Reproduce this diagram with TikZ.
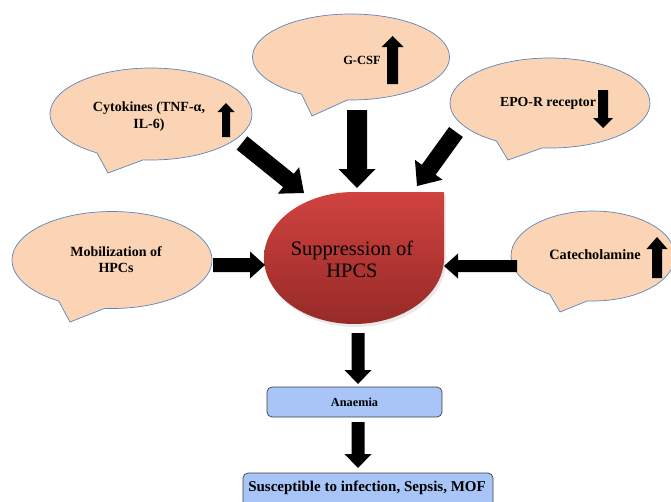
\documentclass[tikz,border=0pt]{standalone}
\usepackage{fontspec}
\setmainfont{Liberation Serif}
\usetikzlibrary{shapes.callouts,calc}
\definecolor{peach}{HTML}{FAD4B4}
\definecolor{callblue}{HTML}{5A86BC}
\definecolor{boxblue}{HTML}{A9C5F8}
\definecolor{boxline}{HTML}{3F3F3F}
\definecolor{redtop}{HTML}{D0433F}
\definecolor{redbot}{HTML}{962A28}
% block arrow: start, end, shaft half width, head half width, head length
\newcommand\blk[5]{\fill[black] let \p1=(#1), \p2=(#2),
  \n1={atan2(\y2-\y1,\x2-\x1)}, \n2={veclen(\x2-\x1,\y2-\y1)} in
  [shift={(\p1)}, rotate=\n1] (0,-#3) -- ({\n2-#5},-#3) -- ({\n2-#5},-#4)
  -- (\n2,0) -- ({\n2-#5},#4) -- ({\n2-#5},#3) -- (0,#3) -- cycle;}
\begin{document}
\begin{tikzpicture}[x=1pt,y=-1pt,
  bubble/.style={ellipse callout, draw=callblue, line width=0.7pt, fill=peach,
    inner sep=0pt, callout pointer arc=28},
  lbl/.style={inner sep=0pt, align=center, text=black},
  flowbox/.style={draw=boxline, line width=0.7pt, fill=boxblue, rounded corners=5pt,
    inner sep=0pt}]
\useasboundingbox (0,0) rectangle (671,501);
\clip (0,0) rectangle (671,501);

% callout bubbles
\node[bubble, minimum width=202pt, minimum height=92pt, callout absolute pointer={(108,173)}] (cyt) at (151,114) {};
\node[bubble, minimum width=197pt, minimum height=86pt, callout absolute pointer={(312,116)}] (gcsf) at (351,57) {};
\node[bubble, minimum width=200pt, minimum height=90pt, callout absolute pointer={(508,160)}] (epo) at (550,103) {};
\node[bubble, minimum width=200pt, minimum height=97pt, callout absolute pointer={(70,322)}] (mob) at (112,260) {};
\node[bubble, minimum width=164pt, minimum height=90pt, callout absolute pointer={(560,312)}] (cat) at (593,256) {};

% central teardrop
\fill[gray!50, opacity=0.35] (446,195) -- (356,195) arc[start angle=90, end angle=360, x radius=90pt, y radius=66pt] -- cycle;
\shade[top color=redtop, bottom color=redbot] (444,192) -- (354,192) arc[start angle=90, end angle=360, x radius=90pt, y radius=66pt] -- cycle;
\node[lbl, font=\fontsize{20.5}{22}\selectfont] (sup) at (352,259) {Suppression of\\HPCS};

% texts in bubbles
\node[lbl, font=\bfseries\fontsize{14}{17}\selectfont] (tcyt) at (149,117) {Cytokines (TNF-α,\\IL-6)};
\node[lbl, font=\bfseries\fontsize{12.5}{15}\selectfont] (tgcsf) at (362,60) {G-CSF};
\node[lbl, font=\bfseries\fontsize{13.8}{16}\selectfont] (tepo) at (548,103) {EPO-R receptor};
\node[lbl, font=\bfseries\fontsize{14}{16}\selectfont] (tmob) at (116,260) {Mobilization of\\HPCs};
\node[lbl, font=\bfseries\fontsize{14.3}{16}\selectfont] (tcat) at (595,255) {Catecholamine};

% flow boxes
\node[flowbox, minimum width=175pt, minimum height=30pt] (an) at (354.5,402) {};
\node[lbl, font=\bfseries\fontsize{12.3}{14}\selectfont] (tan) at (354.5,402) {Anaemia};
\node[flowbox, minimum width=250pt, minimum height=34pt] (sus) at (368,490) {};
\node[lbl, font=\bfseries\fontsize{15}{17}\selectfont] (tsus) at (367,488) {Susceptible to infection, Sepsis, MOF};

% arrow end points
\coordinate (a1) at (242,143);  \coordinate (b1) at (304,193);
\coordinate (a2) at (357,110);  \coordinate (b2) at (357,188);
\coordinate (a3) at (456,132);  \coordinate (b3) at (417,186);
\coordinate (a4) at (213,265);  \coordinate (b4) at (265,265);
\coordinate (a5) at (517,266);  \coordinate (b5) at (444,266);
\coordinate (a6) at (358,333);  \coordinate (b6) at (358,384);
\coordinate (a7) at (358,422);  \coordinate (b7) at (358,468);

\blk{a1}{b1}{8.5}{17}{20}
\blk{a2}{b2}{10}{18.5}{19}
\blk{a3}{b3}{8.5}{17}{20}
\blk{a4}{b4}{7}{13.5}{15}
\blk{a5}{b5}{6}{12.5}{14}
\blk{a6}{b6}{6.5}{13.5}{14}
\blk{a7}{b7}{6.5}{13.5}{14}

% small trend arrows inside bubbles
\coordinate (u1a) at (226,137); \coordinate (u1b) at (226,103);
\coordinate (u2a) at (392.5,84); \coordinate (u2b) at (392.5,36);
\coordinate (u3a) at (603,90);  \coordinate (u3b) at (603,128);
\coordinate (u4a) at (657,278); \coordinate (u4b) at (657,237);
\blk{u1a}{u1b}{4}{8.5}{9}
\blk{u2a}{u2b}{5.5}{11}{11}
\blk{u3a}{u3b}{5}{10}{10}
\blk{u4a}{u4b}{5}{10.5}{12}
\end{tikzpicture}
\end{document}
